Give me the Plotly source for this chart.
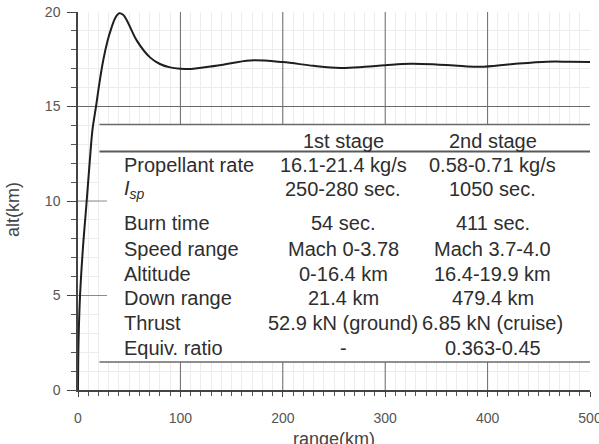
import plotly.graph_objects as go

# ---- data ----
range_km = [0, 0.5, 2, 4.8, 8.5, 12.2, 14.2, 17.6, 20.8, 24.7, 29, 32.9, 36.5, 40.4, 44, 47.5,
            57.3, 70.3, 80, 90, 100, 110, 120, 140, 168, 200, 230, 256, 280, 300, 325,
            350, 375, 393, 425, 458, 480, 500]
alt_km = [0, 2.5, 5, 7.5, 10, 12.6, 13.8, 15, 16.2, 17.46, 18.5, 19.2, 19.7, 19.93, 19.85, 19.58,
          18.5, 17.6, 17.25, 17.07, 17.0, 16.98, 17.05, 17.2, 17.44, 17.35, 17.15, 17.04, 17.1, 17.18, 17.26,
          17.22, 17.14, 17.1, 17.25, 17.37, 17.37, 17.36]

x_ticks = [0, 100, 200, 300, 400, 500]
y_ticks = [0, 5, 10, 15, 20]
x_major_grid = [100, 200, 300, 400]

stage_headers = ["1st stage", "2nd stage"]
row_labels = ["Propellant rate", "<i>I</i><sub><i>sp</i></sub>", "Burn time", "Speed range",
              "Altitude", "Down range", "Thrust", "Equiv. ratio"]
first_stage = ["16.1-21.4 kg/s", "250-280 sec.", "54 sec.", "Mach 0-3.78", "0-16.4 km",
               "21.4 km", "52.9 kN (ground)", "-"]
second_stage = ["0.58-0.71 kg/s", "1050 sec.", "411 sec.", "Mach 3.7-4.0", "16.4-19.9 km",
                "479.4 km", "6.85 kN (cruise)", "0.363-0.45"]

# ---- layout constants ----
FONT = "Liberation Sans, Arial, sans-serif"
TXT = "#2e2e2e"
header_y = 13.17
row_y = [11.90, 10.63, 8.84, 7.46, 6.16, 4.87, 3.54, 2.22]
label_x = 43
col_x = [258.8, 405]
tbl_x0, tbl_x1 = 21, 500
tbl_top, tbl_hdr, tbl_bot = 14.05, 12.62, 1.48

fig = go.Figure()
fig.add_trace(go.Scatter(x=range_km, y=alt_km, mode="lines",
                         line=dict(color="#1e1e1e", width=2, shape="spline", smoothing=1.0),
                         hoverinfo="skip", showlegend=False))

shapes = []
# dark major grid lines
for xv in x_major_grid:
    shapes.append(dict(type="line", xref="x", yref="y", x0=xv, x1=xv, y0=0, y1=20,
                       line=dict(color="#6a6a6a", width=1), layer="between"))
shapes.append(dict(type="line", xref="x", yref="y", x0=0, x1=500, y0=15, y1=15,
                   line=dict(color="#6a6a6a", width=1), layer="between"))
# white table box
shapes.append(dict(type="rect", xref="x", yref="y", x0=tbl_x0, x1=tbl_x1, y0=tbl_bot, y1=tbl_top,
                   fillcolor="white", line=dict(width=0), layer="between"))
# remaining visible stubs of 5 and 10 grid lines
for yv in [5, 10]:
    shapes.append(dict(type="line", xref="x", yref="y", x0=0, x1=28.3, y0=yv, y1=yv,
                       line=dict(color="#8a8a8a", width=1), layer="between"))
# table rules
shapes.append(dict(type="line", xref="x", yref="y", x0=tbl_x0, x1=tbl_x1, y0=tbl_top, y1=tbl_top,
                   line=dict(color="#6a6a6a", width=1.5), layer="between"))
shapes.append(dict(type="line", xref="x", yref="y", x0=tbl_x0, x1=tbl_x1, y0=tbl_hdr, y1=tbl_hdr,
                   line=dict(color="#5a5a5a", width=2.2), layer="between"))
shapes.append(dict(type="line", xref="x", yref="y", x0=tbl_x0, x1=tbl_x1, y0=tbl_bot, y1=tbl_bot,
                   line=dict(color="#6a6a6a", width=1.5), layer="between"))

annotations = []
for cx, h in zip(col_x, stage_headers):
    annotations.append(dict(x=cx, y=header_y, xref="x", yref="y", text=h, showarrow=False,
                            xanchor="center", yanchor="middle",
                            font=dict(family=FONT, size=20, color=TXT)))
for ry, lab, v1, v2 in zip(row_y, row_labels, first_stage, second_stage):
    annotations.append(dict(x=label_x, y=ry, xref="x", yref="y", text=lab, showarrow=False,
                            xanchor="left", yanchor="middle",
                            font=dict(family=FONT, size=20, color=TXT)))
    annotations.append(dict(x=col_x[0], y=ry, xref="x", yref="y", text=v1, showarrow=False,
                            xanchor="center", yanchor="middle",
                            font=dict(family=FONT, size=20, color=TXT)))
    annotations.append(dict(x=col_x[1], y=ry, xref="x", yref="y", text=v2, showarrow=False,
                            xanchor="center", yanchor="middle",
                            font=dict(family=FONT, size=20, color=TXT)))
# axis titles
annotations.append(dict(x=0.5, y=-0.098, xref="paper", yref="paper", text="range(km)",
                        showarrow=False, xanchor="center", yanchor="top",
                        font=dict(family=FONT, size=18, color="#444")))
annotations.append(dict(x=-0.127, y=0.479, xref="paper", yref="paper", text="alt(km)",
                        showarrow=False, xanchor="center", yanchor="middle", textangle=-90,
                        font=dict(family=FONT, size=18, color="#444")))

fig.update_layout(
    width=599, height=444,
    margin=dict(l=78, r=9, t=12, b=54, autoexpand=False),
    paper_bgcolor="white", plot_bgcolor="white",
    shapes=shapes, annotations=annotations,
    font=dict(family=FONT),
    xaxis=dict(range=[0, 500], tickvals=x_ticks, ticks="outside", ticklen=5, tickwidth=1.2,
               tickcolor="#444", showline=True, linecolor="#444", linewidth=1.5,
               showgrid=True, gridcolor="#e8e8e8", zeroline=False, ticklabeloverflow="allow",
               automargin=False,
               tickfont=dict(family=FONT, size=14, color="#555"), ticklabelstandoff=9,
               minor=dict(dtick=10, ticks="outside", ticklen=4, tickcolor="#555",
                          showgrid=True, gridcolor="#ececec")),
    yaxis=dict(range=[0, 20], tickvals=y_ticks, ticks="outside", ticklen=9, tickwidth=1.2,
               tickcolor="#444", showline=True, linecolor="#444", linewidth=1.5,
               showgrid=True, gridcolor="#e8e8e8", zeroline=False, automargin=False,
               tickfont=dict(family=FONT, size=14, color="#555"), ticklabelstandoff=4,
               minor=dict(dtick=1, ticks="outside", ticklen=5, tickcolor="#555",
                          showgrid=True, gridcolor="#ececec")),
)

fig.write_html("out.html")
